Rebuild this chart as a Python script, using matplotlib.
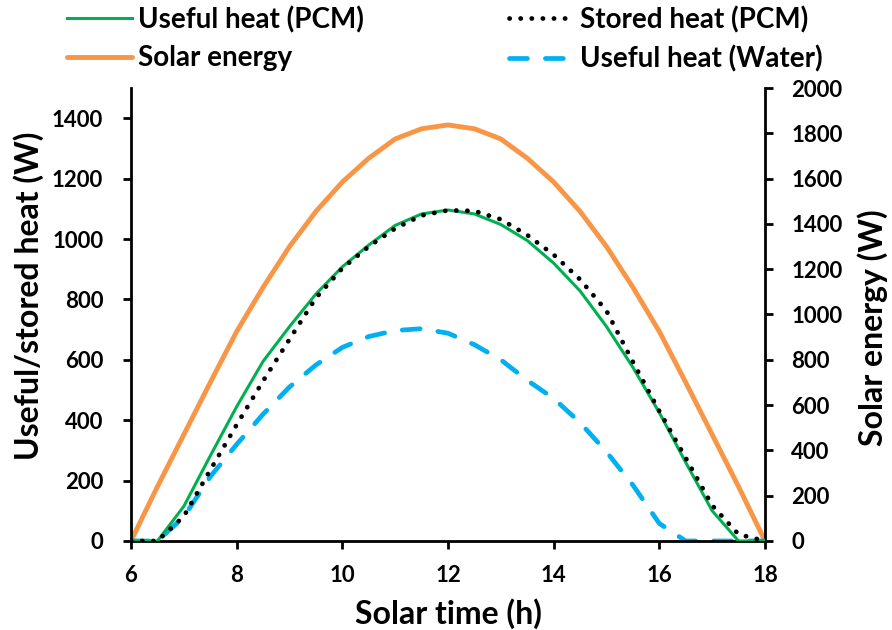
import numpy as np
import matplotlib
matplotlib.use("Agg")
import matplotlib.pyplot as plt
from matplotlib.lines import Line2D

# Solar time (h), half-hour steps
time_h = [6, 6.5, 7, 7.5, 8, 8.5, 9, 9.5, 10, 10.5, 11, 11.5, 12,
          12.5, 13, 13.5, 14, 14.5, 15, 15.5, 16, 16.5, 17, 17.5, 18]

# Left axis series (W)
useful_pcm = [0, 0, 115, 282, 445, 595, 710, 818, 908, 980, 1045, 1083, 1096,
              1083, 1048, 995, 920, 828, 710, 575, 425, 260, 100, 0, 0]
stored_pcm = [0, 0, 82, 235, 385, 530, 668, 805, 903, 975, 1035, 1078, 1095,
              1093, 1065, 1013, 948, 866, 762, 593, 430, 275, 118, 22, 0]
useful_water = [0, 0, 80, 213, 320, 420, 510, 583, 641, 677, 697, 703, 688,
                650, 600, 532, 472, 392, 295, 185, 58, 0, 0, 0, 0]

# Right axis series (W)
solar_energy = [0, 240, 470, 700, 925, 1120, 1300, 1455, 1585, 1690, 1775, 1820, 1837,
                1820, 1775, 1690, 1585, 1455, 1300, 1120, 925, 700, 470, 240, 0]

x_ticks = [6, 8, 10, 12, 14, 16, 18]
left_ticks = np.arange(0, 1401, 200)
right_ticks = np.arange(0, 2001, 200)

GREEN = "#00B050"
ORANGE = "#F79646"
BLUE = "#00B0F0"

# line styles shared by the plot and the legend
green_kw = dict(color=GREEN, lw=2.2)
orange_kw = dict(color=ORANGE, lw=3.5, solid_capstyle="round")
dotted_kw = dict(color="black", lw=3.4, dashes=(0.05, 2.3), dash_capstyle="round")
dashed_kw = dict(color=BLUE, lw=3.4, dashes=(3.8, 3.8), dash_capstyle="round")

plt.rcParams["font.family"] = ["Lato", "DejaVu Sans"]
plt.rcParams["font.weight"] = "bold"

fig = plt.figure(figsize=(8.92, 6.3), dpi=100)
ax = fig.add_axes([0.1469, 0.1413, 0.7107, 0.719])
ax2 = ax.twinx()

ax2.plot(time_h, solar_energy, zorder=1, **orange_kw)
ax.plot(time_h, useful_water, zorder=2, **dashed_kw)
ax.plot(time_h, useful_pcm, zorder=3, **green_kw)
ax.plot(time_h, stored_pcm, zorder=4, **dotted_kw)
ax.set_zorder(ax2.get_zorder() + 1)
ax.patch.set_visible(False)

ax.set_xlim(6, 18)
ax.set_ylim(0, 1500)
ax2.set_ylim(0, 2000)
ax.set_xticks(x_ticks)
ax.set_yticks(left_ticks)
ax2.set_yticks(right_ticks)

for a in (ax, ax2):
    a.spines["top"].set_visible(False)
    for side in ("left", "right", "bottom"):
        a.spines[side].set_linewidth(2.0)
    a.tick_params(width=2.0, length=6, labelsize=16, direction="out")
ax.spines["right"].set_visible(False)
ax2.spines["left"].set_visible(False)
ax2.spines["bottom"].set_visible(False)
ax.tick_params(axis="x", pad=11)
ax.tick_params(axis="y", pad=14)
ax2.tick_params(axis="y", pad=13)

ax.set_xlabel("Solar time (h)", fontsize=23, fontweight="bold")
ax.set_ylabel("Useful/stored heat (W)", fontsize=23, fontweight="bold")
ax2.set_ylabel("Solar energy (W)", fontsize=23, fontweight="bold")
ax.xaxis.set_label_coords(0.5, -0.127)
ax.yaxis.set_label_coords(-0.137, 0.541)
ax2.yaxis.set_label_coords(1.145, 0.47)

# two legend columns placed side by side above the plot
leg_kw = dict(loc="upper left", frameon=False, fontsize=20, handlelength=2.34,
              handletextpad=0.22, labelspacing=0.44, borderpad=0, borderaxespad=0)
fig.legend([Line2D([], [], **green_kw), Line2D([], [], **orange_kw)],
           ["Useful heat (PCM)", "Solar energy"],
           bbox_to_anchor=(67 / 892, 1 - 6 / 630), **leg_kw)
fig.legend([Line2D([], [], **dotted_kw), Line2D([], [], **dashed_kw)],
           ["Stored heat (PCM)", "Useful heat (Water)"],
           bbox_to_anchor=(509 / 892, 1 - 6 / 630), **leg_kw)

fig.savefig("out.png", dpi=100)
